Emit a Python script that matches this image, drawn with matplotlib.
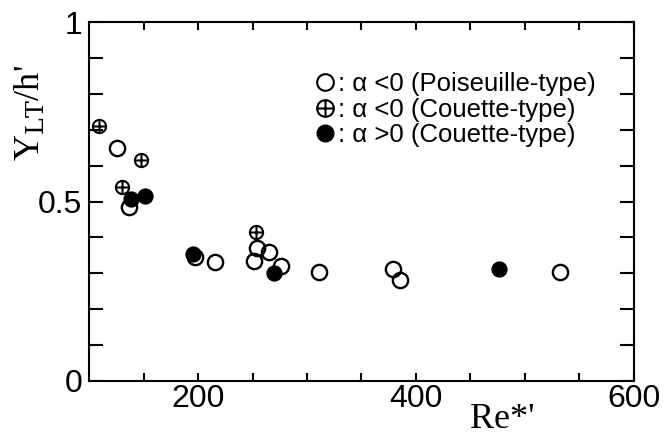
import matplotlib
matplotlib.use("Agg")
import matplotlib.pyplot as plt
from matplotlib.path import Path
from matplotlib.lines import Line2D

# open circles: alpha < 0 (Poiseuille-type)
pois_re = [126, 137, 197, 216, 251, 254, 265, 276, 311, 379, 385, 532]
pois_y = [0.648, 0.486, 0.346, 0.331, 0.333, 0.370, 0.360, 0.321, 0.305, 0.311, 0.281, 0.305]

# circle with cross: alpha < 0 (Couette-type)
cou_neg_re = [109, 130, 148, 253]
cou_neg_y = [0.710, 0.540, 0.616, 0.414]

# filled circles: alpha > 0 (Couette-type)
cou_pos_re = [138, 151, 195, 270, 476]
cou_pos_y = [0.507, 0.516, 0.353, 0.300, 0.312]

xticks = [200, 400, 600]
yticks = [0, 0.5, 1]
ytick_labels = ["0", "0.5", "1"]

# circle-plus marker
oplus = Path.make_compound_path(
    Path.unit_circle(),
    Path([(-1, 0), (1, 0), (0, -1), (0, 1)],
         [Path.MOVETO, Path.LINETO, Path.MOVETO, Path.LINETO]),
)

fig = plt.figure(figsize=(6.7, 4.43), dpi=100)
ax = fig.add_axes([0.133, 0.140, 0.813, 0.810])

ax.plot(pois_re, pois_y, ls="none", marker="o", ms=11, mfc="none", mec="k", mew=1.7)
ax.plot(cou_neg_re, cou_neg_y, ls="none", marker=oplus, ms=9.5, mfc="none", mec="k", mew=1.5)
ax.plot(cou_pos_re, cou_pos_y, ls="none", marker="o", ms=10.5, mfc="k", mec="k", mew=1.2)

ax.set_xlim(100, 600)
ax.set_ylim(0, 1)

sans = "Liberation Sans"
ax.set_xticks(xticks)
ax.set_xticklabels([str(v) for v in xticks], family=sans, fontsize=23)
ax.set_xticks(range(150, 600, 50), minor=True)
ax.set_yticks(yticks)
ax.set_yticklabels(ytick_labels, family=sans, fontsize=23)
ax.set_yticks([i / 10 for i in range(1, 10)], minor=True)

ax.tick_params(which="both", direction="in", top=True, right=True, width=1.5)
ax.tick_params(axis="y", which="both", length=10, pad=5)
ax.tick_params(axis="x", which="both", length=6, pad=2)
for s in ax.spines.values():
    s.set_linewidth(1.5)

serif = "Liberation Serif"
fig.text(0.045, 0.745, r"Y$_{\rm LT}$/h'", rotation=90, ha="center", va="center",
         family=serif, fontsize=26, math_fontfamily="dejavuserif")
fig.text(0.702, 0.015, "Re*'", ha="left", va="bottom", family=serif, fontsize=26)

handles = [
    Line2D([], [], ls="none", marker="o", ms=12, mfc="none", mec="k", mew=1.5),
    Line2D([], [], ls="none", marker=oplus, ms=12, mfc="none", mec="k", mew=1.5),
    Line2D([], [], ls="none", marker="o", ms=12, mfc="k", mec="k"),
]
labels = [": α <0 (Poiseuille-type)", ": α <0 (Couette-type)", ": α >0 (Couette-type)"]
ax.legend(handles, labels, loc="upper left", bbox_to_anchor=(0.415, 0.86), frameon=False,
          prop={"family": sans, "size": 18.5}, handlelength=0.8, handletextpad=0.1,
          labelspacing=0.05, borderpad=0, borderaxespad=0)

fig.savefig("out.png", dpi=100)
